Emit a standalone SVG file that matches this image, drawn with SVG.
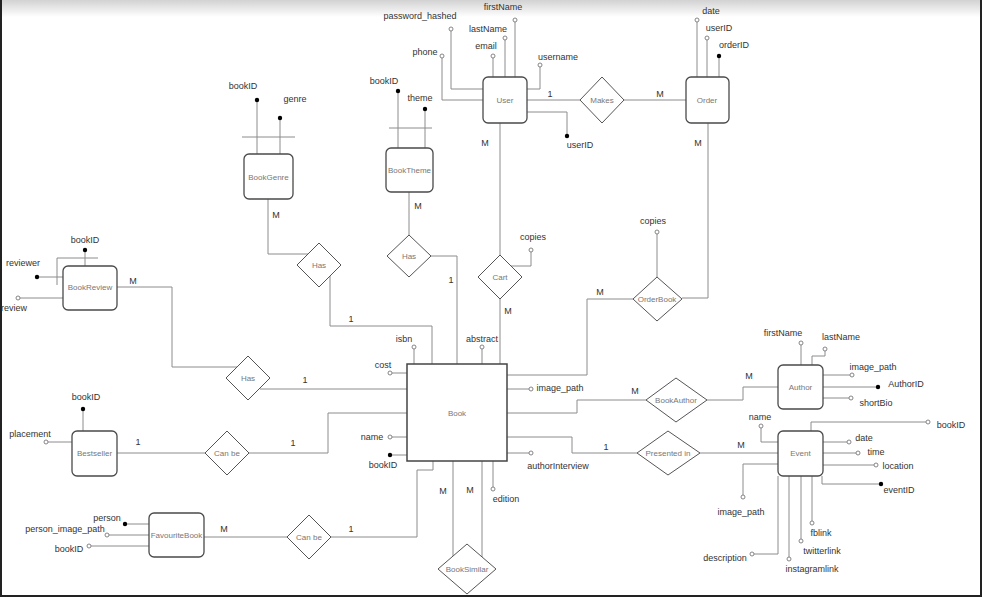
<svg xmlns="http://www.w3.org/2000/svg" width="982" height="597" viewBox="0 0 982 597">
<defs>
<linearGradient id="hdr" x1="0" y1="0" x2="0" y2="1">
<stop offset="0" stop-color="#d2d2d2"/>
<stop offset="1" stop-color="#ffffff"/>
</linearGradient>
</defs>
<style>
.ln{fill:none;stroke:#8c8c8c;stroke-width:1}
.ent{fill:#fff;stroke:#4a4a4a;stroke-width:1.3}
.rel{fill:#fff;stroke:#555;stroke-width:1}
.oc{fill:#fff;stroke:#777;stroke-width:0.9}
.dt{fill:#000}
text{font-family:"Liberation Sans",Arial,sans-serif}
.at{font-size:9px;fill:#333;text-anchor:middle}
.nl{font-size:8px;fill:#777;text-anchor:middle}
.cd{font-size:9px;fill:#333;text-anchor:middle}
</style>
<rect x="0" y="0" width="982" height="597" fill="#fff"/>
<rect x="0" y="0" width="982" height="17" fill="url(#hdr)"/>
<path d="M1,0 V596 H981 V0" fill="none" stroke="#222" stroke-width="2"/>

<g id="connectors">
<path class="ln" d="M527,100 H580"/>
<path class="ln" d="M624,100 H686"/>
<path class="ln" d="M500,123 V255"/>
<path class="ln" d="M708,123 V298 H682"/>
<path class="ln" d="M500,299 V364"/>
<path class="ln" d="M507,375 H587 V299 H633"/>
<path class="ln" d="M409,192 V236"/>
<path class="ln" d="M431,256 H457 V364"/>
<path class="ln" d="M268,199 V254 H308"/>
<path class="ln" d="M330,276 V326 H432 V364"/>
<path class="ln" d="M507,413 H577 V400 H646"/>
<path class="ln" d="M707,400 H743 V387 H778"/>
<path class="ln" d="M507,437 H572 V453 H637"/>
<path class="ln" d="M700,453 H778"/>
<path class="ln" d="M453,461 V556"/>
<path class="ln" d="M482,461 V557"/>
<path class="ln" d="M433,461 V470 H417 V537 H331"/>
<path class="ln" d="M204,537 H287"/>
<path class="ln" d="M117,453 H205"/>
<path class="ln" d="M249,453 H328 V413 H407"/>
<path class="ln" d="M117,287 H172 V367 H237"/>
<path class="ln" d="M260,389 H407"/>
<text class="cd" x="550" y="97">1</text>
<text class="cd" x="660" y="97">M</text>
<text class="cd" x="485" y="146">M</text>
<text class="cd" x="698" y="146">M</text>
<text class="cd" x="508" y="314">M</text>
<text class="cd" x="600" y="295">M</text>
<text class="cd" x="418" y="209">M</text>
<text class="cd" x="451" y="283">1</text>
<text class="cd" x="276" y="218">M</text>
<text class="cd" x="351" y="322">1</text>
<text class="cd" x="635" y="394">M</text>
<text class="cd" x="749" y="379">M</text>
<text class="cd" x="606" y="450">1</text>
<text class="cd" x="741" y="448">M</text>
<text class="cd" x="443" y="494">M</text>
<text class="cd" x="470" y="493">M</text>
<text class="cd" x="351" y="532">1</text>
<text class="cd" x="224" y="532">M</text>
<text class="cd" x="138" y="445">1</text>
<text class="cd" x="293" y="446">1</text>
<text class="cd" x="133" y="284">M</text>
<text class="cd" x="305" y="383">1</text>
</g>

<g id="User">
<path class="ln" d="M483,100 H442 V58 M483,89 H451 V31 M493,77 V58 M505,77 V40 M515,77 V22 M527,89 H540 V67 M527,112 H567 V136"/>
<rect class="ent" x="483" y="77" width="44" height="46" rx="5"/>
<text class="nl" x="505" y="103">User</text>
<circle class="oc" cx="442" cy="56" r="2"/><text class="at" x="425" y="55">phone</text>
<circle class="oc" cx="451" cy="29" r="2"/><text class="at" x="420" y="19">password_hashed</text>
<circle class="oc" cx="493" cy="56" r="2"/><text class="at" x="486" y="49">email</text>
<circle class="oc" cx="505" cy="38" r="2"/><text class="at" x="488" y="32">lastName</text>
<circle class="oc" cx="515" cy="20" r="2"/><text class="at" x="503" y="10">firstName</text>
<circle class="oc" cx="540" cy="65" r="2"/><text class="at" x="558" y="60">username</text>
<circle class="dt" cx="567" cy="136" r="2.2"/><text class="at" x="580" y="148">userID</text>
</g>

<g id="Order">
<path class="ln" d="M697,77 V22 M707,77 V40 M719,77 V56"/>
<rect class="ent" x="686" y="77" width="43" height="46" rx="5"/>
<text class="nl" x="707" y="103">Order</text>
<circle class="oc" cx="697" cy="20" r="2"/><text class="at" x="711" y="14">date</text>
<circle class="oc" cx="707" cy="38" r="2"/><text class="at" x="719" y="31">userID</text>
<circle class="dt" cx="719" cy="56" r="2.2"/><text class="at" x="734" y="48">orderID</text>
</g>

<g id="Makes">
<polygon class="rel" points="580,100 602,77 624,100 602,123"/>
<text class="nl" x="602" y="103">Makes</text>
</g>

<g id="Cart">
<path class="ln" d="M511,266 H531 V252"/>
<polygon class="rel" points="478,277 500,255 522,277 500,299"/>
<text class="nl" x="500" y="280">Cart</text>
<circle class="oc" cx="531" cy="250" r="2"/><text class="at" x="533" y="240">copies</text>
</g>

<g id="OrderBook">
<path class="ln" d="M657,277 V234"/>
<polygon class="rel" points="633,299 657,277 682,299 657,321"/>
<text class="nl" x="657" y="302">OrderBook</text>
<circle class="oc" cx="657" cy="232" r="2"/><text class="at" x="653" y="224">copies</text>
</g>

<g id="BookTheme">
<path class="ln" d="M398,148 V91 M425,148 V109 M389,128 H432"/>
<rect class="ent" x="386" y="148" width="47" height="44" rx="5"/>
<text class="nl" x="409.5" y="173">BookTheme</text>
<circle class="dt" cx="398" cy="91" r="2.2"/><text class="at" x="384" y="84">bookID</text>
<circle class="dt" cx="425" cy="109" r="2.2"/><text class="at" x="420" y="101">theme</text>
</g>

<g id="HasTheme">
<polygon class="rel" points="387,256 409,235 431,256 409,277"/>
<text class="nl" x="409" y="259">Has</text>
</g>

<g id="BookGenre">
<path class="ln" d="M257,154 V100 M280,154 V118 M242,137 H295"/>
<rect class="ent" x="244" y="154" width="49" height="45" rx="5"/>
<text class="nl" x="268.5" y="180">BookGenre</text>
<circle class="dt" cx="257" cy="100" r="2.2"/><text class="at" x="243" y="89">bookID</text>
<circle class="dt" cx="280" cy="118" r="2.2"/><text class="at" x="295" y="102">genre</text>
</g>

<g id="HasGenre">
<polygon class="rel" points="297,265 319,243 341,265 319,287"/>
<text class="nl" x="319" y="268">Has</text>
</g>

<g id="Book">
<path class="ln" d="M414,364 V349 M407,373 H392 M482,364 V349 M507,389 H529 M507,453 H529 M493,461 V487 M407,437 H392 M407,455 H392"/>
<rect x="407" y="364" width="100" height="97" fill="#fff" stroke="#444" stroke-width="1.5"/>
<text class="nl" x="457" y="416">Book</text>
<circle class="oc" cx="414" cy="347" r="2"/><text class="at" x="404" y="342">isbn</text>
<circle class="oc" cx="390" cy="373" r="2"/><text class="at" x="383" y="368">cost</text>
<circle class="oc" cx="482" cy="347" r="2"/><text class="at" x="482" y="342">abstract</text>
<circle class="oc" cx="531" cy="389" r="2"/><text class="at" x="560" y="391">image_path</text>
<circle class="oc" cx="531" cy="453" r="2"/><text class="at" x="558" y="469">authorInterview</text>
<circle class="oc" cx="493" cy="489" r="2"/><text class="at" x="506" y="502">edition</text>
<circle class="oc" cx="390" cy="437" r="2"/><text class="at" x="372" y="440">name</text>
<circle class="dt" cx="390" cy="455" r="2.2"/><text class="at" x="383" y="468">bookID</text>
</g>

<g id="BookAuthor">
<polygon class="rel" points="646,400 676,378 707,400 676,422"/>
<text class="nl" x="676" y="403">BookAuthor</text>
</g>

<g id="Author">
<path class="ln" d="M801,365 V345 M812,365 V356 H825 V351 M823,375 H850 M823,387 H878 M823,398 H849"/>
<rect class="ent" x="778" y="365" width="45" height="44" rx="5"/>
<text class="nl" x="800.5" y="390">Author</text>
<circle class="oc" cx="801" cy="343" r="2"/><text class="at" x="783" y="336">firstName</text>
<circle class="oc" cx="825" cy="349" r="2"/><text class="at" x="841" y="340">lastName</text>
<circle class="oc" cx="852" cy="375" r="2"/><text class="at" x="873" y="370">image_path</text>
<circle class="dt" cx="878" cy="387" r="2.2"/><text class="at" x="906" y="387">AuthorID</text>
<circle class="oc" cx="851" cy="398" r="2"/><text class="at" x="876" y="406">shortBio</text>
</g>

<g id="PresentedIn">
<polygon class="rel" points="637,453 668,431 700,453 668,475"/>
<text class="nl" x="668" y="456">Presented in</text>
</g>

<g id="Event">
<path class="ln" d="M778,442 H761 V428 M811,431 V422 H926 M823,442 H847 M823,453 H856 M823,465 H874 M822,476 V484 H881 M778,464 H743 V495 M778,476 V554 H754 M789,476 V557 M801,476 V539 M812,476 V521"/>
<rect class="ent" x="778" y="431" width="45" height="45" rx="5"/>
<text class="nl" x="800.5" y="456">Event</text>
<circle class="oc" cx="761" cy="426" r="2"/><text class="at" x="760" y="420">name</text>
<circle class="oc" cx="928" cy="422" r="2"/><text class="at" x="951" y="428">bookID</text>
<circle class="oc" cx="849" cy="442" r="2"/><text class="at" x="864" y="441">date</text>
<circle class="oc" cx="858" cy="453" r="2"/><text class="at" x="876" y="455">time</text>
<circle class="oc" cx="876" cy="465" r="2"/><text class="at" x="898" y="469">location</text>
<circle class="dt" cx="881" cy="484" r="2.2"/><text class="at" x="899" y="493">eventID</text>
<circle class="oc" cx="743" cy="497" r="2"/><text class="at" x="741" y="515">image_path</text>
<circle class="oc" cx="752" cy="554" r="2"/><text class="at" x="725" y="561">description</text>
<circle class="oc" cx="789" cy="559" r="2"/><text class="at" x="812" y="572">instagramlink</text>
<circle class="oc" cx="801" cy="541" r="2"/><text class="at" x="822" y="554">twitterlink</text>
<circle class="oc" cx="812" cy="523" r="2"/><text class="at" x="821" y="536">fblink</text>
</g>

<g id="BookSimilar">
<polygon class="rel" points="438,569 467,544 496,569 467,594"/>
<text class="nl" x="467" y="572">BookSimilar</text>
</g>

<g id="CanBeFavourite">
<polygon class="rel" points="287,537 309,515 331,537 309,559"/>
<text class="nl" x="309" y="540">Can be</text>
</g>

<g id="FavouriteBook">
<path class="ln" d="M149,524 H125 M149,535 H109 M149,546 H91"/>
<rect class="ent" x="149" y="513" width="55" height="44" rx="5"/>
<text class="nl" x="176.5" y="538">FavouriteBook</text>
<circle class="dt" cx="125" cy="524" r="2.2"/><text class="at" x="107" y="521">person</text>
<circle class="oc" cx="107" cy="535" r="2"/><text class="at" x="65" y="532">person_image_path</text>
<circle class="oc" cx="89" cy="546" r="2"/><text class="at" x="69" y="552">bookID</text>
</g>

<g id="Bestseller">
<path class="ln" d="M83,431 V409 M72,442 H48"/>
<rect class="ent" x="72" y="431" width="45" height="45" rx="5"/>
<text class="nl" x="94.5" y="456">Bestseller</text>
<circle class="dt" cx="83" cy="409" r="2.2"/><text class="at" x="86" y="400">bookID</text>
<circle class="oc" cx="46" cy="442" r="2"/><text class="at" x="30" y="437">placement</text>
</g>

<g id="CanBeBestseller">
<polygon class="rel" points="205,453 227,431 249,453 227,475"/>
<text class="nl" x="227" y="456">Can be</text>
</g>

<g id="HasReview">
<polygon class="rel" points="226,378 248,356 270,378 248,400"/>
<text class="nl" x="248" y="381">Has</text>
</g>

<g id="BookReview">
<path class="ln" d="M85,266 V250 M57,285 V258 H98 M63,277 H37 M63,298 H20"/>
<rect class="ent" x="63" y="266" width="54" height="44" rx="5"/>
<text class="nl" x="90" y="290">BookReview</text>
<circle class="dt" cx="85" cy="250" r="2.2"/><text class="at" x="85" y="243">bookID</text>
<circle class="dt" cx="37" cy="277" r="2.2"/><text class="at" x="23" y="266">reviewer</text>
<circle class="oc" cx="18" cy="298" r="2"/><text class="at" x="14" y="311">review</text>
</g>
</svg>
